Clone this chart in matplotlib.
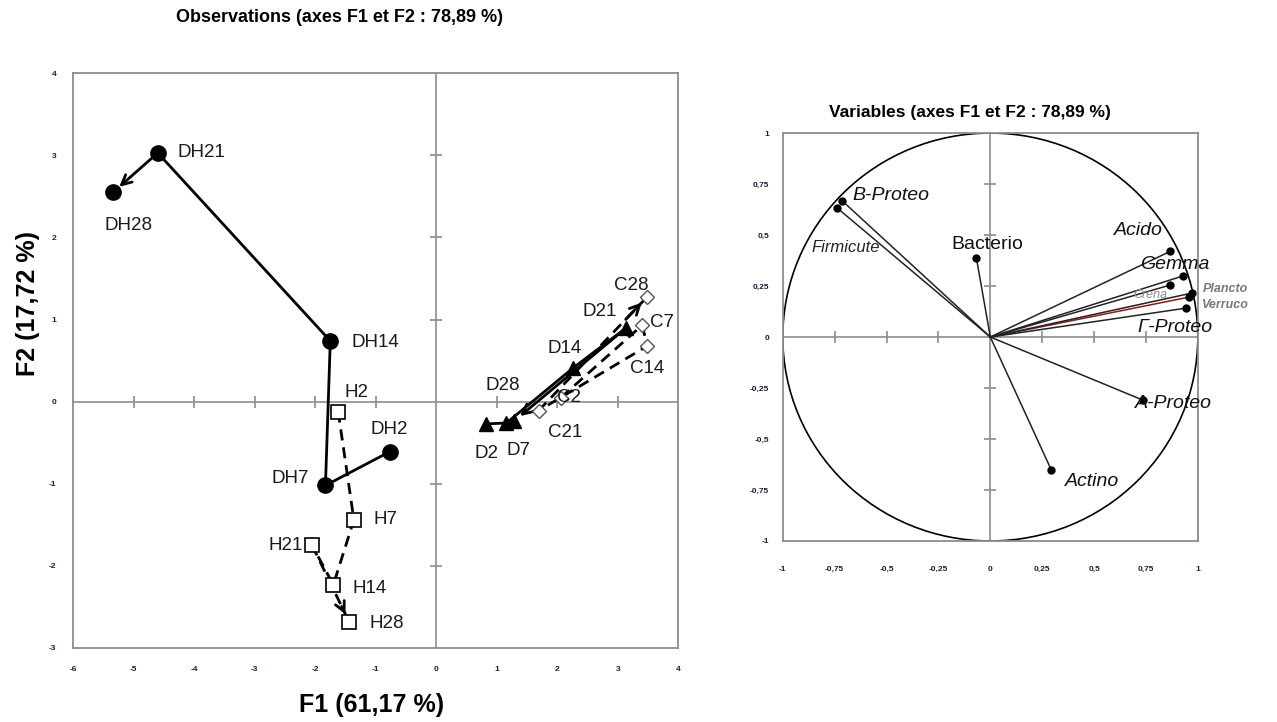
import matplotlib.pyplot as plt
from matplotlib.patches import Circle
import numpy as np

plt.rcParams['font.family'] = ['Liberation Sans', 'DejaVu Sans']

# --- observations (coordinates on F1 / F2) ---
dh_labels = ['DH2', 'DH7', 'DH14', 'DH21', 'DH28']
dh_f1 = [-0.77, -1.83, -1.75, -4.60, -5.34]
dh_f2 = [-0.61, -1.02, 0.74, 3.03, 2.55]

h_labels = ['H2', 'H7', 'H14', 'H21', 'H28']
h_f1 = [-1.62, -1.36, -1.70, -2.05, -1.44]
h_f2 = [-0.12, -1.44, -2.23, -1.75, -2.68]

d_labels = ['D2', 'D7', 'D14', 'D21', 'D28']
d_f1 = [0.83, 1.16, 2.26, 3.14, 1.28]
d_f2 = [-0.27, -0.26, 0.41, 0.90, -0.24]

c_labels = ['C2', 'C7', 'C14', 'C21', 'C28']
c_f1 = [2.06, 3.40, 3.49, 1.69, 3.49]
c_f2 = [0.05, 0.93, 0.68, -0.11, 1.28]

# --- variables (correlations with F1 / F2) ---
var_names = ['B-Proteo', 'Firmicute', 'Bacterio', 'Acido', 'Gemma', 'Crena',
             'Plancto', 'Verruco', 'Γ-Proteo', 'A-Proteo', 'Actino']
var_f1 = [-0.713, -0.737, -0.067, 0.867, 0.930, 0.867, 0.959, 0.973, 0.945, 0.737, 0.294]
var_f2 = [0.667, 0.632, 0.387, 0.420, 0.300, 0.255, 0.196, 0.216, 0.142, -0.310, -0.652]

obs_xticks = list(range(-6, 5))
obs_yticks = list(range(-3, 5))
var_ticks = [-1, -0.75, -0.5, -0.25, 0, 0.25, 0.5, 0.75, 1]
var_ticklabels = ['-1', '-0,75', '-0,5', '-0,25', '0', '0,25', '0,5', '0,75', '1']

# label offsets in points (style only)
obs_offsets = {
    'DH2': (0, 16, 'center'), 'DH7': (-12, 5, 'right'), 'DH14': (15, -1, 'left'),
    'DH21': (14, 0, 'left'), 'DH28': (11, -24, 'center'),
    'H2': (13, 14, 'center'), 'H7': (14, 0, 'left'), 'H14': (14, -3, 'left'),
    'H21': (-7, 0, 'right'), 'H28': (15, -1, 'left'),
    'D2': (0, -21, 'center'), 'D7': (9, -20, 'center'), 'D14': (-6, 14, 'center'),
    'D21': (-19, 12, 'center'), 'D28': (-8, 26, 'center'),
    'C2': (6, 0, 'center'), 'C7': (6, 2, 'left'), 'C14': (0, -16, 'center'),
    'C21': (19, -16, 'center'), 'C28': (-12, 8, 'center'),
}
var_styles = {
    'B-Proteo': ((7, 4), 'left', 14, 'italic', 'normal', '#111111'),
    'Firmicute': ((6, -28), 'center', 12, 'italic', 'normal', '#222222'),
    'Bacterio': ((8, 10), 'center', 14, 'normal', 'normal', '#111111'),
    'Acido': ((-23, 15), 'center', 14, 'italic', 'normal', '#111111'),
    'Gemma': ((-6, 8), 'center', 14, 'italic', 'normal', '#111111'),
    'Crena': ((-14, -7), 'center', 9, 'italic', 'normal', '#8a8a8a'),
    'Plancto': ((10, 6), 'left', 9, 'italic', 'bold', '#7a7a7a'),
    'Verruco': ((7, -9), 'left', 9, 'italic', 'bold', '#7a7a7a'),
    'Γ-Proteo': ((-8, -14), 'center', 14, 'italic', 'normal', '#111111'),
    'A-Proteo': ((22, -2), 'center', 14, 'italic', 'normal', '#111111'),
    'Actino': ((29, -8), 'center', 14, 'italic', 'normal', '#111111'),
}

GRAY = '#8c8c8c'

fig = plt.figure(figsize=(12.77, 7.22), dpi=100)


def excel_axes(ax, xticks, yticks, xlabels, ylabels, xpad, ypad):
    for s in ax.spines.values():
        s.set_color(GRAY)
        s.set_linewidth(1.3)
    ax.axhline(0, color=GRAY, lw=1.2, zorder=1)
    ax.axvline(0, color=GRAY, lw=1.2, zorder=1)
    ax.set_xticks(xticks)
    ax.set_yticks(yticks)
    ax.set_xticklabels(xlabels, fontsize=6, fontweight='bold', color='#1c1c3a')
    ax.set_yticklabels(ylabels, fontsize=6, fontweight='bold', color='#1c1c3a')
    ax.tick_params(axis='x', length=0, pad=xpad)
    ax.tick_params(axis='y', length=0, pad=ypad)
    xin = [t for t in xticks[1:-1] if t != 0]
    yin = [t for t in yticks[1:-1] if t != 0]
    ax.plot(xin, [0] * len(xin), ls='none', marker='|', ms=8, mew=1.2, color=GRAY, zorder=1)
    ax.plot([0] * len(yin), yin, ls='none', marker='_', ms=8, mew=1.2, color=GRAY, zorder=1)


# ---------------- observations ----------------
ax1 = fig.add_axes([0.0572, 0.1025, 0.474, 0.796])
ax1.set_xlim(-6, 4)
ax1.set_ylim(-3, 4)
excel_axes(ax1, obs_xticks, obs_yticks, [str(t) for t in obs_xticks],
           [str(t) for t in obs_yticks], 13, 12)

series = [
    (dh_labels, dh_f1, dh_f2, '-', dict(marker='o', ms=11, mfc='black', mec='black')),
    (h_labels, h_f1, h_f2, (0, (4, 2.5)), dict(marker='s', ms=10, mfc='white', mec='black', mew=1.2)),
    (d_labels, d_f1, d_f2, '-', dict(marker='^', ms=10, mfc='black', mec='black')),
    (c_labels, c_f1, c_f2, (0, (4, 2.5)), dict(marker='D', ms=7, mfc='white', mec='#555555', mew=1)),
]

for labels, xs, ys, ls, mk in series:
    ax1.plot(xs[:-1], ys[:-1], color='black', lw=2, ls=ls, zorder=2)
    if ls == '-':
        ax1.annotate('', xy=(xs[-1], ys[-1]), xytext=(xs[-2], ys[-2]),
                     arrowprops=dict(arrowstyle='->,head_length=0.7,head_width=0.35',
                                     color='black', lw=2, shrinkA=0, shrinkB=6), zorder=2)
    else:
        ax1.plot(xs[-2:], ys[-2:], color='black', lw=2, ls=ls, zorder=2)
        sx = xs[-2] + 0.8 * (xs[-1] - xs[-2])
        sy = ys[-2] + 0.8 * (ys[-1] - ys[-2])
        ax1.annotate('', xy=(xs[-1], ys[-1]), xytext=(sx, sy),
                     arrowprops=dict(arrowstyle='->,head_length=0.7,head_width=0.35',
                                     color='black', lw=2, shrinkA=0, shrinkB=6), zorder=2)
    ax1.plot(xs, ys, ls='none', zorder=3, **mk)
    for lab, x, y in zip(labels, xs, ys):
        dx, dy, ha = obs_offsets[lab]
        ax1.annotate(lab, (x, y), xytext=(dx, dy), textcoords='offset points',
                     ha=ha, va='center', fontsize=13.5, color='#1a1a1a', zorder=4)

fig.text(340 / 1277, 1 - 18 / 722, 'Observations (axes F1 et F2 : 78,89 %)',
         ha='center', va='center', fontsize=13, fontweight='bold')
fig.text(372 / 1277, 1 - 705 / 722, 'F1 (61,17 %)', ha='center', va='center',
         fontsize=18, fontweight='bold')
fig.text(28 / 1277, 1 - 303 / 722, 'F2 (17,72 %)', ha='center', va='center',
         fontsize=18, fontweight='bold', rotation=90)

# ---------------- variables ----------------
ax2 = fig.add_axes([0.613, 0.2507, 0.325, 0.565])
ax2.set_xlim(-1, 1)
ax2.set_ylim(-1, 1)
excel_axes(ax2, var_ticks, var_ticks, var_ticklabels, var_ticklabels, 18, 10)
ax2.add_patch(Circle((0, 0), 1, fill=False, color='black', lw=1.2, zorder=2))

for name, x, y in zip(var_names, var_f1, var_f2):
    col = '#8b1a1a' if name == 'Plancto' else '#222222'
    ax2.plot([0, x], [0, y], color=col, lw=1.1, zorder=3)
    ax2.plot(x, y, 'o', ms=5, color='black', zorder=4)
    (dx, dy), ha, fs, st, fw, tc = var_styles[name]
    ax2.annotate(name, (x, y), xytext=(dx, dy), textcoords='offset points', ha=ha,
                 va='center', fontsize=fs, style=st, fontweight=fw, color=tc, zorder=5)

fig.text(970 / 1277, 1 - 112 / 722, 'Variables (axes F1 et F2 : 78,89 %)',
         ha='center', va='center', fontsize=12.5, fontweight='bold')

fig.savefig('out.png', dpi=100)
